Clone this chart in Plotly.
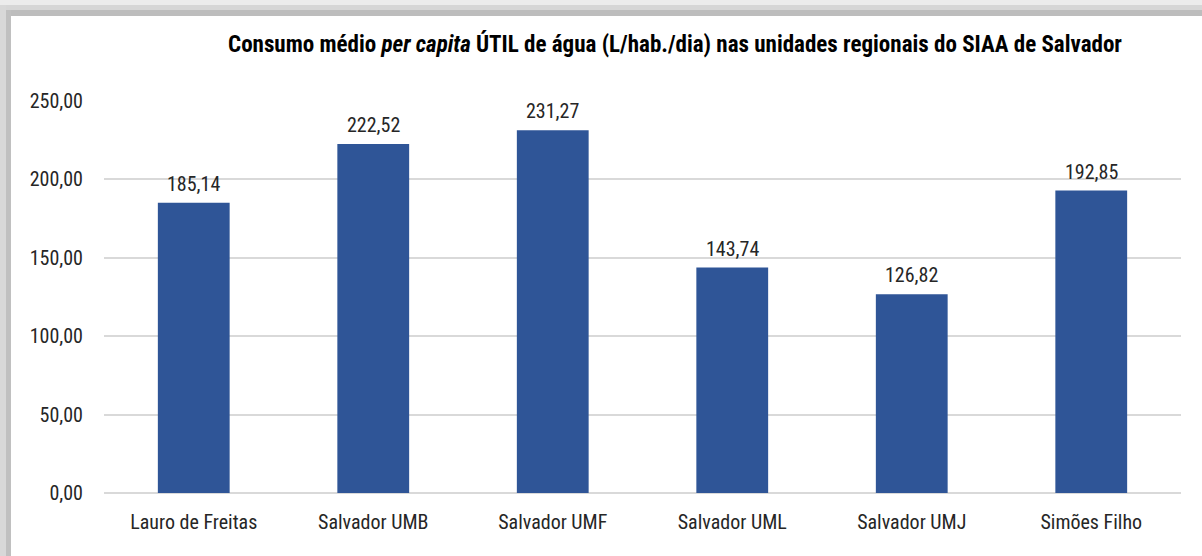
import plotly.graph_objects as go

categories = ["Lauro de Freitas", "Salvador UMB", "Salvador UMF", "Salvador UML", "Salvador UMJ", "Simões Filho"]
values = [185.14, 222.52, 231.27, 143.74, 126.82, 192.85]
tick_vals = [0, 50, 100, 150, 200, 250]
tick_text = ["0,00", "50,00", "100,00", "150,00", "200,00", "250,00"]
title_text = "<b>Consumo médio <i>per capita</i> ÚTIL de água (L/hab./dia) nas unidades regionais do SIAA de Salvador</b>"

W, H = 1202, 556
ML, MR, MT, MB = 104, 21, 101, 63
PW, PH = W - ML - MR, H - MT - MB

def px(x):
    return (x - ML) / PW

def py(y):
    return (H - MB - y) / PH

FONT = "Liberation Sans Narrow, Arial Narrow, Roboto Condensed, sans-serif"

labels = [f"{v:.2f}".replace(".", ",") for v in values]

fig = go.Figure(go.Bar(
    x=categories, y=values,
    marker=dict(color="#2f5597", line=dict(width=0)),
    width=0.4,
))

annotations = [
    dict(x=c, y=v, xref="x", yref="y", text=t, showarrow=False, yanchor="bottom", yshift=5,
         font=dict(family=FONT, size=20, color="#262626"))
    for c, v, t in zip(categories, values, labels)
]

shapes = [
    dict(type="rect", xref="paper", yref="paper", x0=px(0), x1=px(W), y0=py(0), y1=py(5), fillcolor="#ececec", line=dict(width=0), layer="below"),
    dict(type="rect", xref="paper", yref="paper", x0=px(0), x1=px(W), y0=py(5), y1=py(10), fillcolor="#d6d6d6", line=dict(width=0), layer="below"),
    dict(type="rect", xref="paper", yref="paper", x0=px(6), x1=px(W), y0=py(10), y1=py(16), fillcolor="#bdbdbd", line=dict(width=0), layer="below"),
    dict(type="rect", xref="paper", yref="paper", x0=px(0), x1=px(6), y0=py(5), y1=py(H), fillcolor="#d8d8d8", line=dict(width=0), layer="below"),
    dict(type="rect", xref="paper", yref="paper", x0=px(6), x1=px(11), y0=py(10), y1=py(H), fillcolor="#c0c0c0", line=dict(width=0), layer="below"),
]

fig.update_layout(
    width=W, height=H,
    margin=dict(l=ML, r=MR, t=MT, b=MB, pad=0),
    paper_bgcolor="white", plot_bgcolor="white",
    showlegend=False,
    shapes=shapes,
    annotations=annotations,
    title=dict(text=title_text, xref="container", x=675 / W, xanchor="center", yref="container", y=1 - 44 / H, yanchor="middle",
               font=dict(family=FONT, size=23, color="#000000")),
    xaxis=dict(showgrid=False, showline=False, ticks="", ticklabelstandoff=15,
               tickfont=dict(family=FONT, size=20, color="#262626")),
    yaxis=dict(range=[0, 250], tickvals=tick_vals, ticktext=tick_text, showgrid=True, gridcolor="#d9d9d9", gridwidth=2,
               zeroline=True, zerolinecolor="#d9d9d9", zerolinewidth=2, showline=False, ticks="",
               ticklabelstandoff=20, tickfont=dict(family=FONT, size=20, color="#262626")),
    font=dict(family=FONT),
)

fig.write_html("out.html", config={"displayModeBar": False},
               post_script="document.body.style.margin='0';document.body.style.padding='0';")
